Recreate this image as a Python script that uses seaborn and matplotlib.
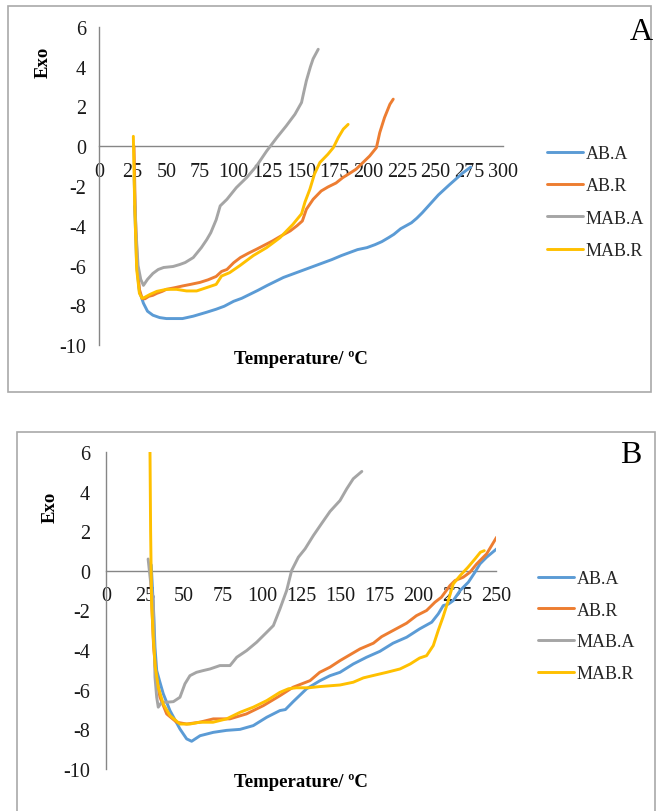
import numpy as np
import pandas as pd
import matplotlib
matplotlib.use("Agg")
import matplotlib.pyplot as plt
from matplotlib.patches import Rectangle
import seaborn as sns

# ---------------- data ----------------
series_names = ["AB.A", "AB.R", "MAB.A", "MAB.R"]
series_colors = ["#5B9BD5", "#ED7D31", "#A5A5A5", "#FFC000"]

# Panel A
a_aba_T = [26.5, 28, 30, 33, 36, 40, 45, 50, 55, 62, 70, 75, 80, 87, 93, 100, 106, 112, 118, 125,
           131, 137, 143, 149, 155, 161, 167, 173, 180, 186, 192, 199, 205, 210, 215, 219, 224, 228,
           232, 236, 240, 244, 248, 252, 256, 260, 265, 270, 276]
a_aba_v = [-3.0, -6.0, -7.3, -7.9, -8.3, -8.5, -8.62, -8.67, -8.67, -8.67, -8.55, -8.45, -8.35, -8.2,
           -8.05, -7.8, -7.65, -7.45, -7.25, -7.0, -6.8, -6.6, -6.45, -6.3, -6.15, -6.0, -5.85, -5.7,
           -5.5, -5.35, -5.2, -5.1, -4.95, -4.8, -4.6, -4.43, -4.15, -4.0, -3.85, -3.62, -3.35, -3.05,
           -2.75, -2.45, -2.2, -1.95, -1.65, -1.35, -1.05]

a_abr_T = [26, 27, 28.5, 30, 32, 34, 37, 40, 43, 47, 50, 56, 62, 68, 75, 81, 87, 91, 95, 100, 105,
           111, 117, 123, 129, 135, 142, 147, 151, 154, 159, 165, 170, 176, 181, 186, 191, 196, 201,
           206, 208.5, 212, 216, 218.5]
a_abr_v = [0.0, -3.5, -6.0, -7.2, -7.65, -7.68, -7.55, -7.5, -7.4, -7.3, -7.2, -7.12, -7.03, -6.95,
           -6.85, -6.72, -6.55, -6.3, -6.2, -5.86, -5.6, -5.38, -5.18, -4.97, -4.76, -4.52, -4.26,
           -4.0, -3.76, -3.17, -2.67, -2.25, -2.05, -1.85, -1.58, -1.37, -1.15, -0.82, -0.49, -0.07,
           0.69, 1.44, 2.11, 2.37]

a_maba_T = [26, 27.5, 29, 31, 33, 36, 40, 44, 48, 55, 60, 64, 70, 76, 80, 83, 87, 90, 95, 102, 110,
            117, 124.5, 132, 139, 145.5, 150.4, 152, 154, 157, 159, 162.8]
a_maba_v = [-1.5, -4.3, -6.0, -6.7, -7.0, -6.7, -6.4, -6.2, -6.1, -6.05, -5.95, -5.85, -5.6, -5.1,
            -4.7, -4.35, -3.7, -3.0, -2.67, -2.08, -1.55, -0.99, -0.24, 0.43, 1.02, 1.61, 2.2, 2.7,
            3.3, 4.0, 4.4, 4.88]

a_mabr_T = [25.5, 26.5, 28, 30, 32, 34, 38, 43, 50, 57.6, 65, 72.5, 80, 87, 91, 97, 104.7, 114.6,
            124.5, 134.4, 144, 150.4, 153, 156.6, 160, 164, 170, 174, 177.7, 181.4, 185]
a_mabr_v = [0.5, -3.0, -6.2, -7.4, -7.65, -7.6, -7.45, -7.3, -7.2, -7.2, -7.28, -7.28, -7.11, -6.95,
            -6.53, -6.36, -6.0, -5.5, -5.1, -4.6, -3.93, -3.4, -2.8, -2.16, -1.4, -0.82, -0.4,
            -0.07, 0.44, 0.86, 1.1]

# Panel B
b_aba_T = [29, 30.5, 31.4, 32.5, 34.5, 36.7, 41, 47.4, 51.7, 54.9, 60.3, 68.8, 77.3, 85.9, 94.4,
           103, 111.5, 115, 120, 128.6, 137, 143.6, 150, 158.5, 167, 175.6, 184, 192.7, 201, 208.8,
           213, 216.2, 219.4, 222.6, 227, 232.3, 236.5, 239.7, 244, 250.4]
b_aba_v = [0.3, -2.0, -3.85, -5.03, -5.6, -6.2, -7.05, -7.98, -8.48, -8.6, -8.32, -8.15, -8.05,
           -8.0, -7.81, -7.39, -7.05, -7.0, -6.6, -5.95, -5.55, -5.29, -5.12, -4.7, -4.36, -4.06,
           -3.65, -3.35, -2.93, -2.59, -2.17, -1.75, -1.68, -1.5, -0.99, -0.57, -0.07, 0.35, 0.69,
           1.11]

b_abr_T = [28.5, 29.5, 30.5, 32, 34.6, 38.9, 45.3, 51.7, 60, 68.8, 79.4, 90, 100.9, 111.5, 120,
           130.8, 137, 143.6, 150, 162.8, 171.4, 176.7, 184, 192.7, 199, 205.5, 210.9, 215, 220.5,
           223.7, 229, 233.3, 237.6, 244, 250.4]
b_abr_v = [0.3, -2.0, -3.8, -5.2, -6.38, -7.22, -7.64, -7.73, -7.64, -7.47, -7.47, -7.22, -6.8,
           -6.3, -5.87, -5.54, -5.12, -4.86, -4.53, -3.94, -3.65, -3.32, -3.01, -2.64, -2.26, -2.0,
           -1.58, -1.33, -0.74, -0.49, -0.32, -0.07, 0.35, 0.86, 1.7]

b_maba_T = [27, 28.5, 30.3, 31.4, 32.5, 33.5, 35.7, 38.9, 43.2, 47.4, 50.6, 53.8, 58, 62.4, 66.7,
            73, 79.5, 83.8, 90.2, 96.6, 103, 107.3, 111.5, 115.8, 119, 123.3, 127.6, 132.9, 138.3,
            143.6, 150, 154.3, 158.5, 164]
b_maba_v = [0.6, -0.5, -1.5, -5.37, -6.38, -6.88, -6.63, -6.63, -6.6, -6.38, -5.7, -5.29, -5.12,
            -5.03, -4.95, -4.78, -4.78, -4.36, -4.02, -3.6, -3.1, -2.76, -1.92, -0.99, 0.02, 0.69,
            1.11, 1.78, 2.4, 3.0, 3.55, 4.14, 4.65, 5.02]

b_mabr_T = [28.2, 28.6, 29.2, 30.3, 31.5, 33.5, 36.7, 41, 47.4, 53.8, 60, 68.6, 77.3, 85.9, 94.4,
            103, 111.5, 117, 122, 130, 137, 150, 158.5, 165, 173.5, 180, 188.5, 195, 201, 205.5,
            209.8, 213, 216, 219.4, 222.6, 227, 232, 236.5, 240, 242.5]
b_mabr_v = [6.0, 2.0, -1.5, -3.35, -4.8, -5.87, -6.72, -7.3, -7.73, -7.73, -7.64, -7.64, -7.47,
            -7.14, -6.88, -6.55, -6.13, -5.95, -5.9, -5.9, -5.84, -5.76, -5.62, -5.4, -5.24, -5.12,
            -4.95, -4.7, -4.4, -4.28, -3.77, -3.0, -2.34, -1.5, -0.66, -0.24, 0.18, 0.6, 0.94, 1.02]

a_xticks = [0, 25, 50, 75, 100, 125, 150, 175, 200, 225, 250, 275, 300]
b_xticks = [0, 25, 50, 75, 100, 125, 150, 175, 200, 225, 250]
yticks = [6, 4, 2, 0, -2, -4, -6, -8, -10]


def long_df(pairs):
    frames = []
    for name, (T, v) in zip(series_names, pairs):
        frames.append(pd.DataFrame({"T": T, "v": v, "series": name}))
    return pd.concat(frames, ignore_index=True)


df_a = long_df([(a_aba_T, a_aba_v), (a_abr_T, a_abr_v), (a_maba_T, a_maba_v), (a_mabr_T, a_mabr_v)])
df_b = long_df([(b_aba_T, b_aba_v), (b_abr_T, b_abr_v), (b_maba_T, b_maba_v), (b_mabr_T, b_mabr_v)])

# ---------------- drawing ----------------
sns.set_theme(style="white")
plt.rcParams["font.family"] = ["Liberation Serif", "DejaVu Serif"]

W, H = 659, 812
fig = plt.figure(figsize=(W / 100, H / 100), dpi=100)


def fx(x):
    return x / W


def fy(y):
    return 1 - y / H


AXIS_C = "#868686"
TXT_C = "#1a1a1a"
TICK_FS = 14.5
LEG_FS = 13


def make_panel(df, rect_px, xmax, xticks, letter, letter_xy, exo_xy, tlabel_xy, legend_xy,
               ypad, labelspacing, box):
    x0, x1, ytop, ybot = rect_px
    ax = fig.add_axes([fx(x0), fy(ybot), fx(x1) - fx(x0), (ybot - ytop) / H])
    ax.set_facecolor("none")
    sns.lineplot(data=df, x="T", y="v", hue="series", hue_order=series_names,
                 palette=dict(zip(series_names, series_colors)), sort=False, estimator=None,
                 units="series", linewidth=2.1, ax=ax, legend=True)
    # spine placement first (it resets tick objects)
    for s in ["top", "right"]:
        ax.spines[s].set_visible(False)
    ax.spines["bottom"].set_position(("data", 0))
    ax.spines["bottom"].set_zorder(0.5)
    for s in ["left", "bottom"]:
        ax.spines[s].set_color(AXIS_C)
        ax.spines[s].set_linewidth(1.0)

    ax.set_xlim(0, xmax)
    ax.set_ylim(-10, 6)
    ax.set_xticks(xticks)
    ax.set_yticks(yticks)
    ax.set_xticklabels([str(t) for t in xticks])
    ax.set_yticklabels([str(t) for t in yticks])
    ax.set_xlabel("")
    ax.set_ylabel("")
    ax.tick_params(axis="x", direction="out", length=4, width=1.0, color=AXIS_C, pad=7.0,
                   labelsize=TICK_FS, labelcolor=TXT_C)
    ax.tick_params(axis="y", direction="out", length=4, width=1.0, color=AXIS_C, pad=ypad,
                   labelsize=TICK_FS, labelcolor=TXT_C)
    ax.grid(False)

    handles, labels = ax.get_legend_handles_labels()
    ax.legend(handles, labels, loc="upper left",
              bbox_to_anchor=(fx(legend_xy[0]), fy(legend_xy[1])), bbox_transform=fig.transFigure,
              frameon=False, fontsize=LEG_FS, handlelength=2.0, handletextpad=0.15,
              labelspacing=labelspacing, borderpad=0, borderaxespad=0)

    fig.text(fx(letter_xy[0]), fy(letter_xy[1]), letter, fontsize=23, ha="center", va="center",
             color="black")
    fig.text(fx(exo_xy[0]), fy(exo_xy[1]), "Exo", fontsize=13.5, fontweight="bold", rotation=90,
             ha="center", va="center", color="black")
    fig.text(fx(tlabel_xy[0]), fy(tlabel_xy[1]), "Temperature/ \u00baC", fontsize=13.5,
             fontweight="bold", ha="center", va="center", color="black")

    bx0, by0, bx1, by1 = box
    fig.patches.append(Rectangle((fx(bx0), fy(by1)), fx(bx1) - fx(bx0), (by1 - by0) / H,
                                 transform=fig.transFigure, fill=False, edgecolor="#a9a9a9",
                                 linewidth=1.2, zorder=0))
    return ax


make_panel(df_a, (99, 503, 28, 346), 300, a_xticks, "A", (641, 33), (43, 62), (301, 360),
           (547, 146), 5.5, 0.85, (8, 7, 651, 393))
make_panel(df_b, (106, 496, 453, 770), 250, b_xticks, "B", (631, 456), (50, 507), (301, 783),
           (538, 571), 7.5, 0.81, (17, 433, 655, 830))

fig.savefig("out.png", dpi=100)
